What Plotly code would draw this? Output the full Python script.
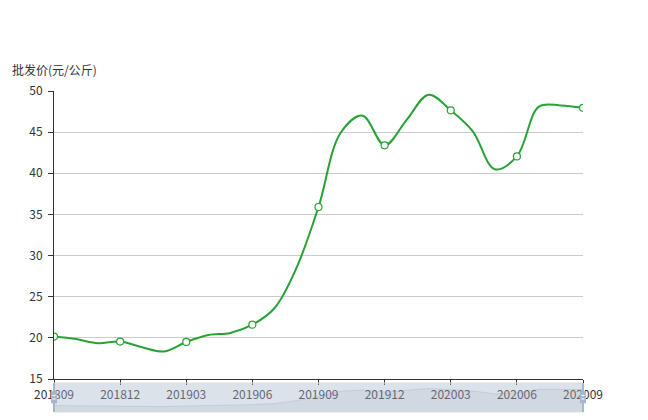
import plotly.graph_objects as go

months = ['201809', '201810', '201811', '201812', '201901', '201902', '201903',
          '201904', '201905', '201906', '201907', '201908', '201909', '201910',
          '201911', '201912', '202001', '202002', '202003', '202004', '202005',
          '202006', '202007', '202008', '202009']
prices = [20.15, 19.85, 19.35, 19.55, 18.85, 18.35, 19.5, 20.35, 20.6, 21.6,
          23.6, 28.5, 35.9, 44.9, 47.0, 43.4, 46.5, 49.55, 47.65, 45.1, 40.5,
          42.05, 48.1, 48.25, 47.95]
axis_title = '批发价(元/公斤)'
label_step = 3

GREEN = '#27a234'
FONT = 'Noto Sans CJK SC, Noto Sans, sans-serif'

lbl_months = months[::label_step]
lbl_prices = prices[::label_step]

# data shadow extent in slider (30% padding like echarts)
pmin, pmax = min(prices), max(prices)
pad = (pmax - pmin) * 0.3
idx = list(range(len(months)))

fig = go.Figure()
# slider data shadow
fig.add_trace(go.Scatter(
    x=idx, y=prices, xaxis='x2', yaxis='y2', mode='lines',
    line=dict(color='rgba(47,69,84,0.3)', width=0.5),
    fill='tozeroy', fillcolor='rgba(47,69,84,0.09)', hoverinfo='skip'))
# main line
fig.add_trace(go.Scatter(
    x=months, y=prices, mode='lines',
    line=dict(color=GREEN, width=2, shape='spline', smoothing=1.0)))
# markers at labelled points
fig.add_trace(go.Scatter(
    x=lbl_months, y=lbl_prices, mode='markers',
    marker=dict(symbol='circle', size=7, color='white',
                line=dict(color=GREEN, width=1.2))))

shapes = [
    # slider filler
    dict(type='rect', xref='paper', yref='y2 domain', x0=0, x1=1, y0=0, y1=1,
         fillcolor='rgba(167,183,203,0.4)', line=dict(color='#dddddd', width=1),
         layer='above'),
]
for xa in (0, 1):
    shapes.append(dict(type='rect', xref='paper', yref='y2 domain',
                       xsizemode='pixel', xanchor=xa, x0=-1, x1=1, y0=0, y1=1,
                       fillcolor='#a7b7cc', line=dict(width=0), layer='above'))
    shapes.append(dict(type='rect', xref='paper', yref='y2 domain',
                       xsizemode='pixel', xanchor=xa, x0=-3, x1=3, y0=0.3, y1=0.72,
                       fillcolor='#a7b7cc', line=dict(width=0), layer='above'))
    shapes.append(dict(type='line', xref='paper', yref='y2 domain',
                       xsizemode='pixel', xanchor=xa, x0=-1.5, x1=1.5, y0=0.45, y1=0.45,
                       line=dict(color='white', width=1), layer='above'))
    shapes.append(dict(type='line', xref='paper', yref='y2 domain',
                       xsizemode='pixel', xanchor=xa, x0=-1.5, x1=1.5, y0=0.57, y1=0.57,
                       line=dict(color='white', width=1), layer='above'))

# page body has an 8px margin: figure is sized so it fits the 648x420 window
fig.update_layout(
    width=640, height=412,
    margin=dict(l=46, r=65, t=83, b=8, autoexpand=False),
    paper_bgcolor='white', plot_bgcolor='white',
    showlegend=False,
    font=dict(family=FONT, size=12, color='#333333'),
    xaxis=dict(
        type='category', categoryorder='array', categoryarray=months,
        range=[0, len(months) - 1], automargin=False,
        tickmode='array', tickvals=lbl_months, ticktext=lbl_months,
        showgrid=False, zeroline=False,
        showline=True, linecolor='#333333', linewidth=1,
        ticks='outside', ticklen=5, tickcolor='#333333',
        tickfont=dict(size=12, color='#333333'),
        anchor='y',
    ),
    yaxis=dict(
        domain=[0.1028, 1], automargin=False,
        range=[15, 50], dtick=5, tick0=0,
        showgrid=True, gridcolor='#cccccc', gridwidth=1,
        zeroline=False,
        showline=True, linecolor='#333333', linewidth=1,
        ticks='outside', ticklen=5, tickcolor='#333333',
        tickfont=dict(size=12, color='#333333'),
        ticklabelstandoff=3,
    ),
    xaxis2=dict(domain=[0, 1], range=[0, len(months) - 1], visible=False,
                anchor='y2', fixedrange=True, automargin=False),
    yaxis2=dict(domain=[0.0, 0.0903], range=[pmin - pad, pmax + pad],
                visible=False, anchor='x2', fixedrange=True, automargin=False),
    shapes=shapes,
    annotations=[dict(
        text=axis_title, xref='paper', yref='paper',
        x=-0.083, y=1.068, xanchor='left', yanchor='middle',
        showarrow=False, font=dict(size=12, color='#333333', family=FONT))],
)

fig.write_html('out.html')
